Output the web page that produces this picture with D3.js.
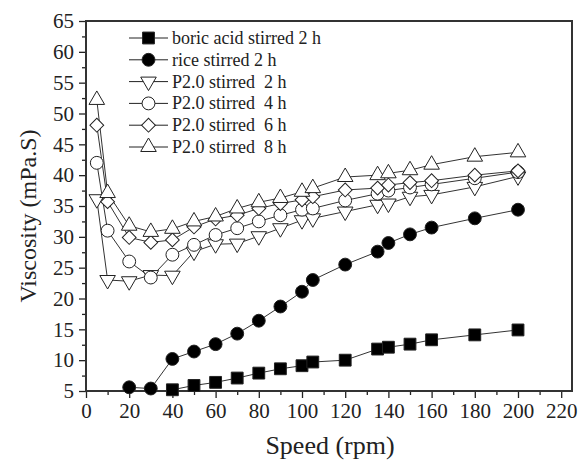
<!DOCTYPE html>
<html>
<head>
<meta charset="utf-8">
<script src="https://cdn.jsdelivr.net/npm/d3@7"></script>
<style>
  body { margin: 0; background: #fff; }
</style>
</head>
<body>
<svg id="chart" width="582" height="462"></svg>
<script>
// speeds (rpm)
var speedsP = [5, 10, 20, 30, 40, 50, 60, 70, 80, 90, 100, 105, 120, 135, 140, 150, 160, 180, 200];
var speedsRice = [20, 30, 40, 50, 60, 70, 80, 90, 100, 105, 120, 135, 140, 150, 160, 180, 200];
var speedsBoric = [40, 50, 60, 70, 80, 90, 100, 105, 120, 135, 140, 150, 160, 180, 200];

// viscosity (mPa.S)
var boric = [5.2, 5.9, 6.4, 7.1, 7.9, 8.6, 9.1, 9.7, 10.0, 11.8, 12.1, 12.6, 13.3, 14.1, 14.9];
var rice = [5.6, 5.4, 10.2, 11.4, 12.6, 14.3, 16.4, 18.7, 21.1, 23.0, 25.5, 27.6, 29.0, 30.4, 31.5, 33.0, 34.4];
var p2h = [36.1, 23.0, 22.8, 23.8, 23.7, 27.6, 28.8, 28.9, 30.1, 31.4, 32.7, 33.0, 34.1, 35.2, 35.4, 36.5, 36.8, 38.1, 39.8];
var p4h = [42.0, 31.0, 26.0, 23.4, 27.1, 28.7, 30.3, 31.4, 32.5, 33.5, 34.4, 34.6, 35.9, 37.0, 37.5, 38.0, 38.5, 39.5, 40.5];
var p6h = [48.1, 35.7, 29.9, 29.1, 29.5, 31.6, 32.9, 33.5, 34.6, 35.4, 36.0, 36.5, 37.6, 37.9, 38.4, 38.8, 39.1, 40.0, 40.7];
var p8h = [52.2, 37.1, 31.8, 30.8, 31.3, 32.5, 33.3, 34.6, 35.6, 36.3, 37.3, 37.9, 39.7, 40.0, 40.3, 40.8, 41.7, 43.0, 43.7];

var names = ["boric acid stirred 2 h", "rice stirred 2 h", "P2.0 stirred  2 h", "P2.0 stirred  4 h", "P2.0 stirred  6 h", "P2.0 stirred  8 h"];
var xTicks = d3.range(0, 221, 20);
var yTicks = d3.range(5, 66, 5);

var series = [
  { name: names[0], xs: speedsBoric, ys: boric, shape: "square", fill: "#000" },
  { name: names[1], xs: speedsRice, ys: rice, shape: "circle", fill: "#000" },
  { name: names[2], xs: speedsP, ys: p2h, shape: "tridown", fill: "#fff" },
  { name: names[3], xs: speedsP, ys: p4h, shape: "circle", fill: "#fff" },
  { name: names[4], xs: speedsP, ys: p6h, shape: "diamond", fill: "#fff" },
  { name: names[5], xs: speedsP, ys: p8h, shape: "triup", fill: "#fff" }
];

var FONT = "'Liberation Serif', 'Times New Roman', 'DejaVu Serif', serif";

var margin = { top: 21, right: 10, bottom: 71, left: 86 };
var width = 582 - margin.left - margin.right,
    height = 462 - margin.top - margin.bottom;

var svg = d3.select("#chart");
var g = svg.append("g").attr("transform", "translate(" + margin.left + "," + margin.top + ")");

var x = d3.scaleLinear().domain([0, 225]).range([0, width]);
var y = d3.scaleLinear().domain([5, 65]).range([height, 0]);

// minor ticks
g.append("g").attr("transform", "translate(0," + height + ")")
  .call(d3.axisBottom(x).tickValues(d3.range(10, 221, 20)).tickSize(4).tickFormat(""))
  .call(a => a.select(".domain").remove());
g.append("g")
  .call(d3.axisLeft(y).tickValues(d3.range(7.5, 65, 5)).tickSize(4).tickFormat(""))
  .call(a => a.select(".domain").remove());

// major ticks
var xa = g.append("g").attr("transform", "translate(0," + height + ")")
  .call(d3.axisBottom(x).tickValues(xTicks).tickSize(7).tickPadding(5));
var ya = g.append("g")
  .call(d3.axisLeft(y).tickValues(yTicks).tickSize(7).tickPadding(5));
[xa, ya].forEach(a => {
  a.attr("font-family", null);
  a.select(".domain").remove();
  a.selectAll("text").style("font-family", FONT).style("font-size", "21px").attr("fill", "#222");
});
g.selectAll(".tick line").attr("stroke", "#222").attr("stroke-width", 1.3);

// frame
g.append("rect").attr("width", width).attr("height", height)
  .attr("fill", "none").attr("stroke", "#333").attr("stroke-width", 2);

function sym(shape) {
  if (shape == "square") return d3.symbol().type(d3.symbolSquare).size(140)();
  if (shape == "circle") return d3.symbol().type(d3.symbolCircle).size(130)();
  if (shape == "diamond") return d3.symbol().type(d3.symbolSquare).size(95)();
  return d3.symbol().type(d3.symbolTriangle).size(105)();
}
function rot(shape) {
  if (shape == "diamond") return " rotate(45)";
  if (shape == "tridown") return " rotate(180)";
  return "";
}

var line = d3.line().x(d => x(d[0])).y(d => y(d[1]));

series.forEach(function(s) {
  var pts = s.xs.map((v, i) => [v, s.ys[i]]);
  g.append("path").datum(pts).attr("d", line)
    .attr("fill", "none").attr("stroke", "#333").attr("stroke-width", 1);
});
series.forEach(function(s) {
  var pts = s.xs.map((v, i) => [v, s.ys[i]]);
  g.selectAll(null).data(pts).enter().append("path")
    .attr("d", sym(s.shape))
    .attr("transform", d => "translate(" + x(d[0]) + "," + y(d[1]) + ")" + rot(s.shape))
    .attr("fill", s.fill).attr("stroke", "#222").attr("stroke-width", 1);
});

// legend
var leg = svg.append("g").attr("transform", "translate(129,38)");
series.forEach(function(s, i) {
  var row = leg.append("g").attr("transform", "translate(0," + (i * 21.8) + ")");
  row.append("line").attr("x1", 0).attr("x2", 39).attr("y1", 0).attr("y2", 0)
    .attr("stroke", "#222").attr("stroke-width", 1);
  row.append("path").attr("d", sym(s.shape))
    .attr("transform", "translate(19.5,0)" + rot(s.shape))
    .attr("fill", s.fill).attr("stroke", "#222").attr("stroke-width", 1);
  row.append("text").attr("x", 43).attr("y", 6)
    .style("font-family", FONT).style("font-size", "18px").attr("fill", "#222")
    .style("white-space", "pre").text(s.name);
});

// axis titles
svg.append("text").attr("x", 330).attr("y", 454)
  .attr("text-anchor", "middle").style("font-family", FONT).style("font-size", "26px")
  .attr("fill", "#222").text("Speed (rpm)");
svg.append("text").attr("transform", "translate(36,216) rotate(-90)")
  .attr("text-anchor", "middle").style("font-family", FONT).style("font-size", "24px")
  .attr("fill", "#222").text("Viscosity (mPa.S)");
</script>
</body>
</html>
